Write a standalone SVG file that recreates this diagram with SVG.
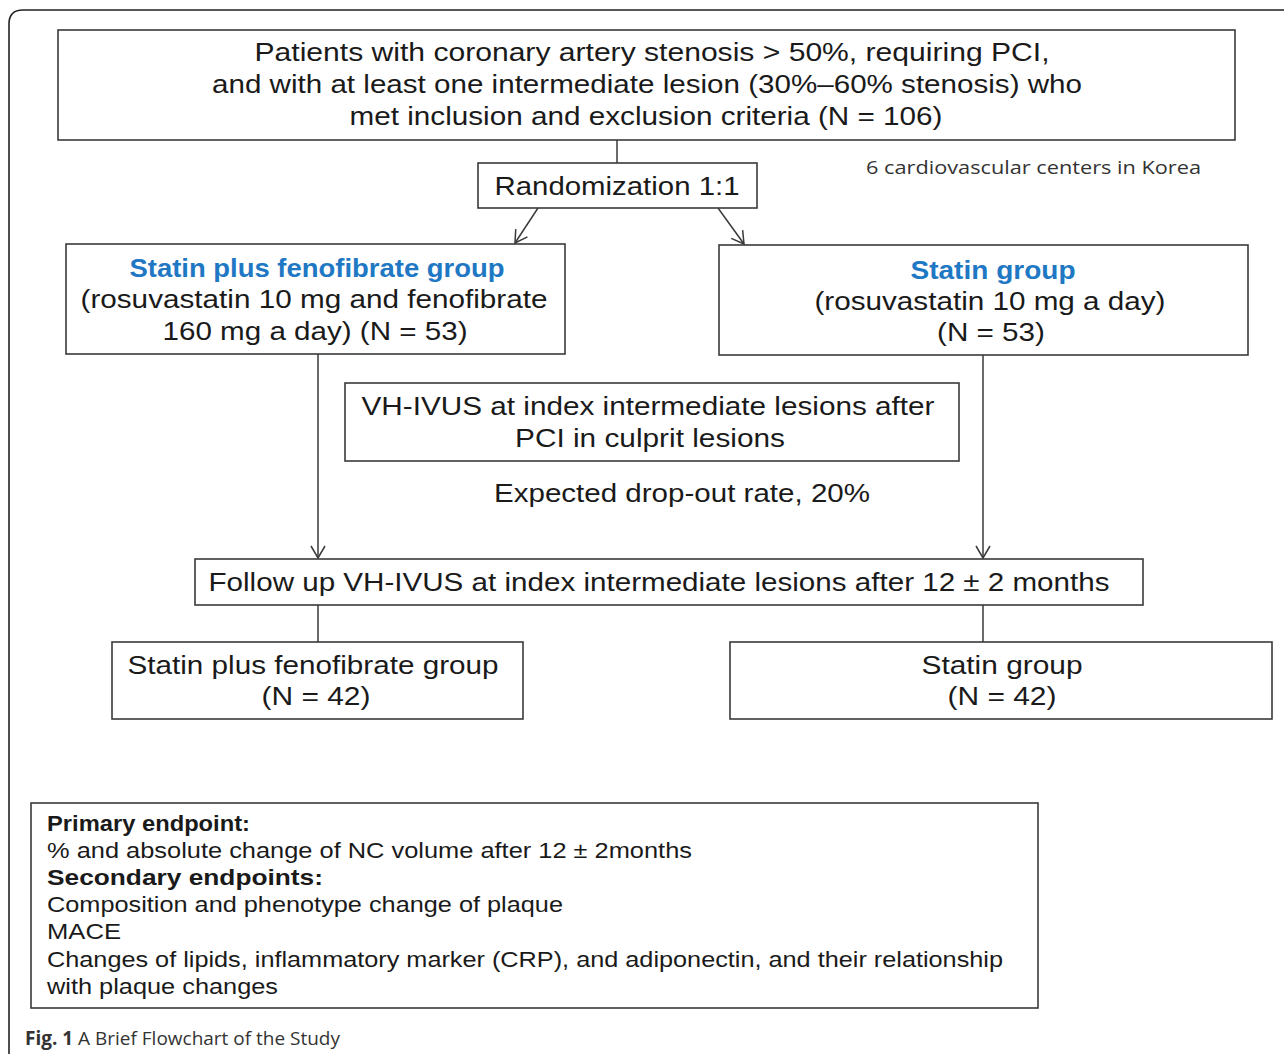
<svg xmlns="http://www.w3.org/2000/svg" width="1284" height="1054" viewBox="0 0 1284 1054">
<defs>
<style>
.box{fill:#fff;stroke:#3a3a3a;stroke-width:1.6}
.t{font-family:"Liberation Sans",Arial,sans-serif;font-size:26px;fill:#1a1a1a;text-anchor:middle}
.blue{fill:#1f78c4;font-weight:bold}
.ep{font-family:"Liberation Sans",Arial,sans-serif;font-size:22px;fill:#1a1a1a}
.b{font-weight:bold}
.small{font-family:"Open Sans","Noto Sans",sans-serif;font-size:19px;fill:#333}
.cn{stroke:#3a3a3a;stroke-width:1.5;fill:none}
</style>
<marker id="arr" markerUnits="userSpaceOnUse" markerWidth="16" markerHeight="16" viewBox="0 0 16 16" refX="14" refY="8" orient="auto">
<path d="M2,1 L14,8 L2,15" fill="none" stroke="#3a3a3a" stroke-width="1.5"/>
</marker>
</defs>
<rect width="1284" height="1054" fill="#fff"/>
<path d="M9,1054 V24 Q9,10 23,10 H1284" fill="none" stroke="#222" stroke-width="1.6"/>

<g id="connectors">
<line class="cn" x1="617" y1="140" x2="617" y2="163"/>
<line class="cn" x1="538" y1="208" x2="515" y2="243" marker-end="url(#arr)"/>
<line class="cn" x1="718" y1="208" x2="744" y2="244" marker-end="url(#arr)"/>
<line class="cn" x1="318" y1="354" x2="318" y2="558" marker-end="url(#arr)"/>
<line class="cn" x1="983" y1="355" x2="983" y2="558" marker-end="url(#arr)"/>
<line class="cn" x1="318" y1="605" x2="318" y2="642"/>
<line class="cn" x1="983" y1="605" x2="983" y2="642"/>
</g>

<g id="patients">
<rect class="box" x="58" y="30" width="1177" height="110"/>
<text class="t" x="652" y="61" textLength="795" lengthAdjust="spacingAndGlyphs">Patients with coronary artery stenosis &gt; 50%, requiring PCI,</text>
<text class="t" x="647" y="93" textLength="870" lengthAdjust="spacingAndGlyphs">and with at least one intermediate lesion (30%–60% stenosis) who</text>
<text class="t" x="646" y="125" textLength="593" lengthAdjust="spacingAndGlyphs">met inclusion and exclusion criteria (N = 106)</text>
</g>

<g id="centers">
<text class="small" x="866" y="174" textLength="335" lengthAdjust="spacingAndGlyphs">6 cardiovascular  centers in  Korea</text>
</g>

<g id="randomization">
<rect class="box" x="478" y="163" width="279" height="45"/>
<text class="t" x="617" y="195" textLength="245" lengthAdjust="spacingAndGlyphs">Randomization 1:1</text>
</g>

<g id="combo-group">
<rect class="box" x="66" y="244" width="499" height="110"/>
<text class="t blue" x="317" y="277" textLength="375" lengthAdjust="spacingAndGlyphs">Statin plus fenofibrate group</text>
<text class="t" x="314" y="308" textLength="467" lengthAdjust="spacingAndGlyphs">(rosuvastatin 10 mg and fenofibrate</text>
<text class="t" x="315" y="340" textLength="305" lengthAdjust="spacingAndGlyphs">160 mg a day) (N = 53)</text>
</g>

<g id="statin-group">
<rect class="box" x="719" y="245" width="529" height="110"/>
<text class="t blue" x="993" y="279" textLength="165" lengthAdjust="spacingAndGlyphs">Statin group</text>
<text class="t" x="990" y="310" textLength="351" lengthAdjust="spacingAndGlyphs">(rosuvastatin 10 mg a day)</text>
<text class="t" x="991" y="341" textLength="108" lengthAdjust="spacingAndGlyphs">(N = 53)</text>
</g>

<g id="vh-ivus">
<rect class="box" x="345" y="383" width="614" height="78"/>
<text class="t" x="648" y="415" textLength="573" lengthAdjust="spacingAndGlyphs">VH-IVUS at index intermediate lesions after</text>
<text class="t" x="650" y="447" textLength="270" lengthAdjust="spacingAndGlyphs">PCI in culprit lesions</text>
</g>

<g id="dropout">
<text class="t" x="682" y="502" textLength="376" lengthAdjust="spacingAndGlyphs">Expected drop-out rate, 20%</text>
</g>

<g id="follow-up">
<rect class="box" x="195" y="559" width="948" height="46"/>
<text class="t" x="659" y="591" textLength="901" lengthAdjust="spacingAndGlyphs">Follow up VH-IVUS at index intermediate lesions after 12 ± 2 months</text>
</g>

<g id="combo-final">
<rect class="box" x="112" y="642" width="411" height="77"/>
<text class="t" x="313" y="674" textLength="371" lengthAdjust="spacingAndGlyphs">Statin plus fenofibrate group</text>
<text class="t" x="316" y="705" textLength="109" lengthAdjust="spacingAndGlyphs">(N = 42)</text>
</g>

<g id="statin-final">
<rect class="box" x="730" y="642" width="542" height="77"/>
<text class="t" x="1002" y="674" textLength="161" lengthAdjust="spacingAndGlyphs">Statin group</text>
<text class="t" x="1002" y="705" textLength="109" lengthAdjust="spacingAndGlyphs">(N = 42)</text>
</g>

<g id="endpoints">
<rect class="box" x="31" y="803" width="1007" height="205"/>
<text class="ep b" x="47" y="831" textLength="203" lengthAdjust="spacingAndGlyphs">Primary endpoint:</text>
<text class="ep" x="47" y="858" textLength="645" lengthAdjust="spacingAndGlyphs">% and absolute change of NC volume after  12 ± 2months</text>
<text class="ep b" x="47" y="885" textLength="276" lengthAdjust="spacingAndGlyphs">Secondary endpoints:</text>
<text class="ep" x="47" y="912" textLength="516" lengthAdjust="spacingAndGlyphs">Composition and phenotype change of plaque</text>
<text class="ep" x="47" y="939" textLength="74" lengthAdjust="spacingAndGlyphs">MACE</text>
<text class="ep" x="47" y="967" textLength="956" lengthAdjust="spacingAndGlyphs">Changes of lipids, inflammatory  marker (CRP), and adiponectin, and their relationship</text>
<text class="ep" x="47" y="994" textLength="231" lengthAdjust="spacingAndGlyphs">with plaque changes</text>
</g>

<g id="caption">
<text class="small" x="25" y="1045" textLength="315" lengthAdjust="spacingAndGlyphs"><tspan font-weight="bold">Fig. 1</tspan> A Brief Flowchart of the Study</text>
</g>
</svg>
